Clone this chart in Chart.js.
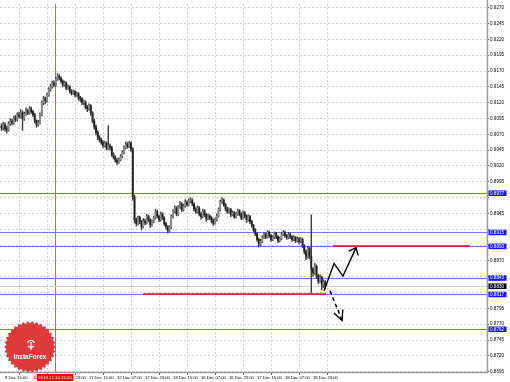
<!DOCTYPE html>
<html>
<head>
<meta charset="utf-8">
<script src="https://cdn.jsdelivr.net/npm/chart.js@4.4.0/dist/chart.umd.min.js"></script>
<style>
  html, body { margin: 0; padding: 0; background: #fff; }
</style>
</head>
<body>
<canvas id="chart" width="510" height="382"></canvas>
<script>
// H1 candles, 9 Dec 13:00 -> 19 Dec 06:00
const opens = [
  0.9083, 0.9080, 0.9085, 0.9079, 0.9077, 0.9087, 0.9091, 0.9088, 0.9096, 0.9093,
  0.9101, 0.9098, 0.9104, 0.9095, 0.9102, 0.9107, 0.9104, 0.9110, 0.9106, 0.9101,
  0.9091, 0.9085, 0.9088, 0.9101, 0.9120, 0.9126, 0.9123, 0.9132, 0.9141, 0.9145,
  0.9151, 0.9148, 0.9157, 0.9162, 0.9159, 0.9154, 0.9148, 0.9151, 0.9143, 0.9145,
  0.9138, 0.9135, 0.9137, 0.9132, 0.9134, 0.9127, 0.9126, 0.9120, 0.9121, 0.9113,
  0.9110, 0.9115, 0.9104, 0.9091, 0.9082, 0.9073, 0.9065, 0.9062, 0.9057, 0.9052,
  0.9056, 0.9048, 0.9052, 0.9049, 0.9038, 0.9034, 0.9029, 0.9026, 0.9030, 0.9035,
  0.9041, 0.9049, 0.9054, 0.9051, 0.9056, 0.9046, 0.8971, 0.8935, 0.8929, 0.8938,
  0.8932, 0.8924, 0.8933, 0.8930, 0.8940, 0.8935, 0.8927, 0.8932, 0.8938, 0.8948,
  0.8941, 0.8935, 0.8944, 0.8938, 0.8929, 0.8924, 0.8918, 0.8923, 0.8940, 0.8948,
  0.8954, 0.8944, 0.8955, 0.8960, 0.8951, 0.8957, 0.8963, 0.8959, 0.8965, 0.8966,
  0.8960, 0.8952, 0.8948, 0.8954, 0.8944, 0.8940, 0.8949, 0.8943, 0.8937, 0.8941,
  0.8938, 0.8933, 0.8930, 0.8935, 0.8941, 0.8951, 0.8963, 0.8966, 0.8959, 0.8952,
  0.8948, 0.8951, 0.8943, 0.8946, 0.8940, 0.8944, 0.8949, 0.8944, 0.8938, 0.8946,
  0.8941, 0.8935, 0.8940, 0.8932, 0.8926, 0.8919, 0.8913, 0.8904, 0.8896, 0.8901,
  0.8907, 0.8912, 0.8908, 0.8915, 0.8910, 0.8904, 0.8907, 0.8913, 0.8908, 0.8902,
  0.8905, 0.8912, 0.8915, 0.8910, 0.8907, 0.8912, 0.8908, 0.8904, 0.8907, 0.8902,
  0.8905, 0.8901, 0.8904, 0.8894, 0.8885, 0.8876, 0.8890, 0.8877, 0.8857, 0.8851,
  0.8862, 0.8846, 0.8838, 0.8844, 0.8832, 0.8837
];
const highs = [
  0.9087, 0.9089, 0.9088, 0.9083, 0.9090, 0.9095, 0.9094, 0.9099, 0.9100, 0.9104,
  0.9105, 0.9109, 0.9107, 0.9105, 0.9112, 0.9110, 0.9114, 0.9113, 0.9108, 0.9103,
  0.9093, 0.9092, 0.9104, 0.9123, 0.9130, 0.9129, 0.9135, 0.9144, 0.9149, 0.9154,
  0.9155, 0.9160, 0.9166, 0.9164, 0.9161, 0.9156, 0.9154, 0.9153, 0.9148, 0.9147,
  0.9141, 0.9140, 0.9139, 0.9137, 0.9136, 0.9130, 0.9128, 0.9124, 0.9123, 0.9116,
  0.9118, 0.9117, 0.9106, 0.9094, 0.9085, 0.9076, 0.9068, 0.9064, 0.9060, 0.9059,
  0.9058, 0.9084, 0.9055, 0.9051, 0.9041, 0.9036, 0.9032, 0.9033, 0.9038, 0.9044,
  0.9052, 0.9058, 0.9057, 0.9059, 0.9058, 0.9049, 0.8974, 0.8938, 0.8941, 0.8941,
  0.8934, 0.8937, 0.8936, 0.8944, 0.8942, 0.8937, 0.8935, 0.8941, 0.8952, 0.8950,
  0.8943, 0.8947, 0.8946, 0.8940, 0.8931, 0.8926, 0.8926, 0.8943, 0.8951, 0.8957,
  0.8956, 0.8958, 0.8964, 0.8962, 0.8960, 0.8967, 0.8965, 0.8968, 0.8970, 0.8968,
  0.8962, 0.8955, 0.8957, 0.8956, 0.8947, 0.8952, 0.8951, 0.8945, 0.8944, 0.8943,
  0.8940, 0.8936, 0.8938, 0.8944, 0.8954, 0.8966, 0.8970, 0.8968, 0.8961, 0.8955,
  0.8954, 0.8953, 0.8949, 0.8948, 0.8947, 0.8952, 0.8951, 0.8946, 0.8949, 0.8948,
  0.8943, 0.8943, 0.8942, 0.8934, 0.8928, 0.8921, 0.8915, 0.8906, 0.8904, 0.8910,
  0.8915, 0.8914, 0.8918, 0.8917, 0.8912, 0.8910, 0.8916, 0.8915, 0.8910, 0.8908,
  0.8915, 0.8918, 0.8917, 0.8912, 0.8915, 0.8914, 0.8910, 0.8910, 0.8909, 0.8908,
  0.8907, 0.8907, 0.8906, 0.8896, 0.8888, 0.8893, 0.8892, 0.8943, 0.8860, 0.8866,
  0.8864, 0.8849, 0.8848, 0.8846, 0.8840, 0.8839
];
const lows = [
  0.9076, 0.9077, 0.9075, 0.9072, 0.9075, 0.9084, 0.9085, 0.9086, 0.9090, 0.9091,
  0.9095, 0.9096, 0.9076, 0.9092, 0.9100, 0.9101, 0.9102, 0.9103, 0.9098, 0.9088,
  0.9081, 0.9083, 0.9086, 0.9099, 0.9117, 0.9119, 0.9121, 0.9130, 0.9138, 0.9143,
  0.9145, 0.9146, 0.9155, 0.9156, 0.9151, 0.9145, 0.9146, 0.9140, 0.9141, 0.9135,
  0.9132, 0.9133, 0.9129, 0.9130, 0.9124, 0.9122, 0.9117, 0.9117, 0.9110, 0.9106,
  0.9108, 0.9100, 0.9088, 0.9078, 0.9069, 0.9061, 0.9058, 0.9054, 0.9049, 0.9050,
  0.9045, 0.9046, 0.9045, 0.9035, 0.9031, 0.9026, 0.9022, 0.9024, 0.9028, 0.9033,
  0.9039, 0.9047, 0.9048, 0.9049, 0.9043, 0.8966, 0.8930, 0.8925, 0.8927, 0.8929,
  0.8919, 0.8922, 0.8927, 0.8928, 0.8932, 0.8923, 0.8925, 0.8930, 0.8936, 0.8938,
  0.8932, 0.8933, 0.8935, 0.8926, 0.8920, 0.8914, 0.8916, 0.8921, 0.8938, 0.8946,
  0.8941, 0.8942, 0.8953, 0.8948, 0.8949, 0.8955, 0.8956, 0.8957, 0.8962, 0.8957,
  0.8949, 0.8945, 0.8946, 0.8941, 0.8936, 0.8938, 0.8940, 0.8933, 0.8935, 0.8935,
  0.8930, 0.8926, 0.8928, 0.8933, 0.8939, 0.8949, 0.8961, 0.8956, 0.8949, 0.8945,
  0.8946, 0.8940, 0.8941, 0.8937, 0.8938, 0.8942, 0.8941, 0.8935, 0.8936, 0.8938,
  0.8931, 0.8933, 0.8929, 0.8923, 0.8916, 0.8910, 0.8901, 0.8892, 0.8894, 0.8899,
  0.8905, 0.8905, 0.8906, 0.8907, 0.8901, 0.8902, 0.8905, 0.8905, 0.8899, 0.8900,
  0.8903, 0.8910, 0.8907, 0.8904, 0.8905, 0.8905, 0.8901, 0.8902, 0.8899, 0.8900,
  0.8897, 0.8899, 0.8891, 0.8881, 0.8872, 0.8874, 0.8873, 0.8819, 0.8846, 0.8849,
  0.8842, 0.8834, 0.8836, 0.8824, 0.8828, 0.8826
];
const closes = [
  0.9080, 0.9085, 0.9079, 0.9077, 0.9087, 0.9091, 0.9088, 0.9096, 0.9093, 0.9101,
  0.9098, 0.9104, 0.9095, 0.9102, 0.9107, 0.9104, 0.9110, 0.9106, 0.9101, 0.9091,
  0.9085, 0.9088, 0.9101, 0.9120, 0.9126, 0.9123, 0.9132, 0.9141, 0.9145, 0.9151,
  0.9148, 0.9157, 0.9162, 0.9159, 0.9154, 0.9148, 0.9151, 0.9143, 0.9145, 0.9138,
  0.9135, 0.9137, 0.9132, 0.9134, 0.9127, 0.9126, 0.9120, 0.9121, 0.9113, 0.9110,
  0.9115, 0.9104, 0.9091, 0.9082, 0.9073, 0.9065, 0.9062, 0.9057, 0.9052, 0.9056,
  0.9048, 0.9052, 0.9049, 0.9038, 0.9034, 0.9029, 0.9026, 0.9030, 0.9035, 0.9041,
  0.9049, 0.9054, 0.9051, 0.9056, 0.9046, 0.8971, 0.8935, 0.8929, 0.8938, 0.8932,
  0.8924, 0.8933, 0.8930, 0.8940, 0.8935, 0.8927, 0.8932, 0.8938, 0.8948, 0.8941,
  0.8935, 0.8944, 0.8938, 0.8929, 0.8924, 0.8918, 0.8923, 0.8940, 0.8948, 0.8954,
  0.8944, 0.8955, 0.8960, 0.8951, 0.8957, 0.8963, 0.8959, 0.8965, 0.8966, 0.8960,
  0.8952, 0.8948, 0.8954, 0.8944, 0.8940, 0.8949, 0.8943, 0.8937, 0.8941, 0.8938,
  0.8933, 0.8930, 0.8935, 0.8941, 0.8951, 0.8963, 0.8966, 0.8959, 0.8952, 0.8948,
  0.8951, 0.8943, 0.8946, 0.8940, 0.8944, 0.8949, 0.8944, 0.8938, 0.8946, 0.8941,
  0.8935, 0.8940, 0.8932, 0.8926, 0.8919, 0.8913, 0.8904, 0.8896, 0.8901, 0.8907,
  0.8912, 0.8908, 0.8915, 0.8910, 0.8904, 0.8907, 0.8913, 0.8908, 0.8902, 0.8905,
  0.8912, 0.8915, 0.8910, 0.8907, 0.8912, 0.8908, 0.8904, 0.8907, 0.8902, 0.8905,
  0.8901, 0.8904, 0.8894, 0.8885, 0.8876, 0.8890, 0.8877, 0.8857, 0.8851, 0.8862,
  0.8846, 0.8838, 0.8844, 0.8832, 0.8837, 0.8830
];

// time axis: bar index of each label
const timeTickIndex = [2, 18, 34, 50, 66, 82, 98, 114, 130, 146, 162, 178];
const timeLabels = ['9 Dec 15:00', '10 Dec 07:00', '10 Dec 23:00', '11 Dec 15:00', '12 Dec 07:00', '12 Dec 23:00',
  '13 Dec 15:00', '16 Dec 07:00', '16 Dec 23:00', '17 Dec 15:00', '18 Dec 07:00', '18 Dec 23:00'];
const priceTicks = [0.8695, 0.8720, 0.8745, 0.8770, 0.8795, 0.8820, 0.8845, 0.8870, 0.8895, 0.8920, 0.8945, 0.8970,
  0.8995, 0.9020, 0.9045, 0.9070, 0.9095, 0.9120, 0.9145, 0.9170, 0.9195, 0.9220, 0.9245, 0.9270];

// analyst levels and marks
const levels = [0.8977, 0.8915, 0.8893, 0.8843, 0.8817, 0.8762];
const currentPrice = 0.8830;
const redLevels = [
  { from: 80.9, to: 185.4, price: 0.8817 },
  { from: 189.4, to: 267.7, price: 0.8893 }
];
const markerIndex = 30.6;
const markerText = '2019.12.10 15:00';
const upArrow = [[184.3, 0.8823], [190.0, 0.8866], [195.1, 0.8846], [202.6, 0.8891]];
const downArrow = [[187.7, 0.8823], [194.6, 0.8776]];

const FONT = '"Liberation Sans", Arial, sans-serif';
const idx = closes.map((c, i) => i);

function arrowHead(ctx, x1, y1, x2, y2, len, spread) {
  const a = Math.atan2(y2 - y1, x2 - x1);
  ctx.beginPath();
  ctx.moveTo(x2 - len * Math.cos(a - spread), y2 - len * Math.sin(a - spread));
  ctx.lineTo(x2, y2);
  ctx.lineTo(x2 - len * Math.cos(a + spread), y2 - len * Math.sin(a + spread));
  ctx.stroke();
}

function hLine(ctx, ca, yy, color, width) {
  ctx.strokeStyle = color;
  ctx.lineWidth = width;
  ctx.beginPath(); ctx.moveTo(ca.left, yy); ctx.lineTo(ca.right, yy); ctx.stroke();
}

const marksPlugin = {
  id: 'marks',
  beforeDatasetsDraw(chart) {
    const { ctx, chartArea: ca, scales: { x, y } } = chart;
    ctx.save();
    ctx.setLineDash([]);
    ctx.beginPath();
    ctx.rect(ca.left, ca.top, ca.right - ca.left, ca.bottom - ca.top);
    ctx.clip();
    // red time marker
    ctx.strokeStyle = 'rgb(255,80,80)';
    ctx.lineWidth = 1;
    const mx = Math.round(x.getPixelForValue(markerIndex)) + 0.5;
    ctx.beginPath(); ctx.moveTo(mx, ca.top); ctx.lineTo(mx, ca.bottom); ctx.stroke();
    // current price
    hLine(ctx, ca, Math.round(y.getPixelForValue(currentPrice)) + 0.5, 'rgb(205,205,205)', 1);
    // blue levels
    levels.forEach(l => hLine(ctx, ca, Math.round(y.getPixelForValue(l)) + 0.5, 'rgb(115,115,255)', 1));
    ctx.restore();
  },
  afterDatasetsDraw(chart) {
    const { ctx, chartArea: ca, scales: { x, y } } = chart;
    ctx.save();
    ctx.beginPath();
    ctx.rect(ca.left, ca.top, ca.right - ca.left, ca.bottom - ca.top);
    ctx.clip();
    // red levels
    ctx.strokeStyle = 'rgb(225,20,20)';
    ctx.lineWidth = 1.6;
    redLevels.forEach(r => {
      const ry = Math.round(y.getPixelForValue(r.price));
      ctx.beginPath();
      ctx.moveTo(x.getPixelForValue(r.from), ry);
      ctx.lineTo(x.getPixelForValue(r.to), ry);
      ctx.stroke();
    });
    // forecast arrows
    ctx.strokeStyle = '#000';
    ctx.lineWidth = 1.4;
    const up = upArrow.map(p => [x.getPixelForValue(p[0]), y.getPixelForValue(p[1])]);
    ctx.beginPath();
    up.forEach((p, i) => i ? ctx.lineTo(p[0], p[1]) : ctx.moveTo(p[0], p[1]));
    ctx.stroke();
    const n = up.length;
    arrowHead(ctx, up[n - 2][0], up[n - 2][1], up[n - 1][0], up[n - 1][1], 8, 0.7);
    const dn = downArrow.map(p => [x.getPixelForValue(p[0]), y.getPixelForValue(p[1])]);
    ctx.setLineDash([4, 3]);
    ctx.beginPath(); ctx.moveTo(dn[0][0], dn[0][1]); ctx.lineTo(dn[1][0], dn[1][1]); ctx.stroke();
    ctx.setLineDash([]);
    arrowHead(ctx, dn[0][0], dn[0][1], dn[1][0], dn[1][1], 11, 0.45);
    ctx.restore();
  },
  afterDraw(chart) {
    const { ctx, chartArea: ca, scales: { x, y } } = chart;
    ctx.save();
    ctx.setLineDash([]);
    // frame
    ctx.strokeStyle = '#9a9a9a';
    ctx.lineWidth = 1.5;
    ctx.beginPath();
    ctx.moveTo(ca.right + 0.5, 0); ctx.lineTo(ca.right + 0.5, ca.bottom + 0.5); ctx.lineTo(0, ca.bottom + 0.5);
    ctx.stroke();

    // price boxes on the right axis
    ctx.font = '4.6px ' + FONT;
    ctx.textBaseline = 'middle';
    ctx.textAlign = 'left';
    const box = (v, bg) => {
      const by = y.getPixelForValue(v);
      ctx.fillStyle = bg;
      ctx.fillRect(ca.right + 1.5, by - 2.8, 18, 5.6);
      ctx.fillStyle = '#fff';
      ctx.fillText(v.toFixed(4), ca.right + 3, by + 0.2);
    };
    levels.forEach(l => box(l, 'rgb(25,25,245)'));
    box(currentPrice, '#000');

    // time marker box
    const mx = x.getPixelForValue(markerIndex);
    ctx.font = '4.3px ' + FONT;
    const tw = ctx.measureText(markerText).width;
    ctx.fillStyle = 'rgb(250,0,0)';
    ctx.fillRect(mx - tw / 2 - 1.5, ca.bottom + 2, tw + 3, 7);
    ctx.fillStyle = '#fff';
    ctx.textAlign = 'center';
    ctx.fillText(markerText, mx, ca.bottom + 5.7);

    // InstaForex badge
    ctx.beginPath();
    ctx.rect(ca.left, ca.top, ca.right - ca.left, ca.bottom - ca.top + 0.5);
    ctx.clip();
    const cx = ca.left + 30, cy = ca.bottom - 25;
    const teeth = 34;
    ctx.beginPath();
    for (let k = 0; k < teeth * 2; k++) {
      const r = k % 2 ? 23.5 : 26;
      const a = (Math.PI * k) / teeth;
      const px = cx + r * Math.cos(a), pyy = cy + r * Math.sin(a);
      k ? ctx.lineTo(px, pyy) : ctx.moveTo(px, pyy);
    }
    ctx.closePath();
    ctx.fillStyle = 'rgb(222,58,60)';
    ctx.fill();
    // icon
    ctx.strokeStyle = '#fff';
    ctx.fillStyle = '#fff';
    ctx.lineWidth = 1.2;
    ctx.beginPath(); ctx.arc(cx + 1, cy - 3, 3.6, Math.PI * 1.1, Math.PI * 1.9); ctx.stroke();
    ctx.beginPath(); ctx.arc(cx + 1, cy - 4, 1.1, 0, Math.PI * 2); ctx.fill();
    ctx.fillRect(cx + 0.4, cy - 3, 1.3, 6);
    ctx.beginPath(); ctx.moveTo(cx - 2, cy - 1); ctx.lineTo(cx + 1, cy + 1); ctx.lineTo(cx + 4, cy - 1); ctx.stroke();
    // name
    ctx.font = 'bold 6.5px ' + FONT;
    ctx.textAlign = 'center';
    ctx.textBaseline = 'middle';
    ctx.fillText('InstaForex', cx, cy + 10);
    ctx.restore();
  }
};

const ctx = document.getElementById('chart').getContext('2d');
new Chart(ctx, {
  type: 'bar',
  data: {
    datasets: [
      {
        // candle bodies
        data: idx.map(i => ({ x: i, y: [opens[i], closes[i]] })),
        backgroundColor: idx.map(i => closes[i] >= opens[i] ? '#8c8c8c' : '#222222'),
        barThickness: 1.2,
        grouped: false,
        minBarLength: 1
      },
      {
        // wicks
        data: idx.map(i => ({ x: i, y: [lows[i], highs[i]] })),
        backgroundColor: '#404040',
        barThickness: 0.8,
        grouped: false
      }
    ]
  },
  options: {
    responsive: false,
    animation: false,
    devicePixelRatio: 1,
    layout: { padding: 0 },
    plugins: { legend: { display: false }, tooltip: { enabled: false } },
    scales: {
      x: {
        type: 'linear',
        min: -0.86,
        max: 277.4,
        offset: false,
        afterBuildTicks: scale => { scale.ticks = timeTickIndex.map(v => ({ value: v })); },
        afterFit: scale => { scale.height = 10; },
        ticks: {
          autoSkip: false,
          maxRotation: 0,
          align: 'start',
          padding: 0,
          color: '#000',
          font: { size: 4.2, family: FONT },
          callback: (v) => { const k = timeTickIndex.indexOf(v); return k >= 0 ? timeLabels[k] : ''; }
        },
        grid: { color: '#cfcfcf', tickColor: '#555', tickLength: 3, tickBorderDash: [] },
        border: { display: false, dash: [2, 2] }
      },
      y: {
        type: 'linear',
        position: 'right',
        min: 0.86945,
        max: 0.92763,
        afterBuildTicks: scale => { scale.ticks = priceTicks.map(v => ({ value: v })); },
        afterFit: scale => { scale.width = 23; },
        ticks: {
          padding: 1,
          color: '#000',
          font: { size: 4.6, family: FONT },
          callback: (v) => levels.concat([currentPrice]).some(l => Math.abs(l - v) < 0.00075) ? '' : v.toFixed(4)
        },
        grid: { color: '#cfcfcf', tickColor: '#555', tickLength: 2, tickBorderDash: [] },
        border: { display: false, dash: [2, 2] }
      }
    }
  },
  plugins: [marksPlugin]
});
</script>
</body>
</html>
